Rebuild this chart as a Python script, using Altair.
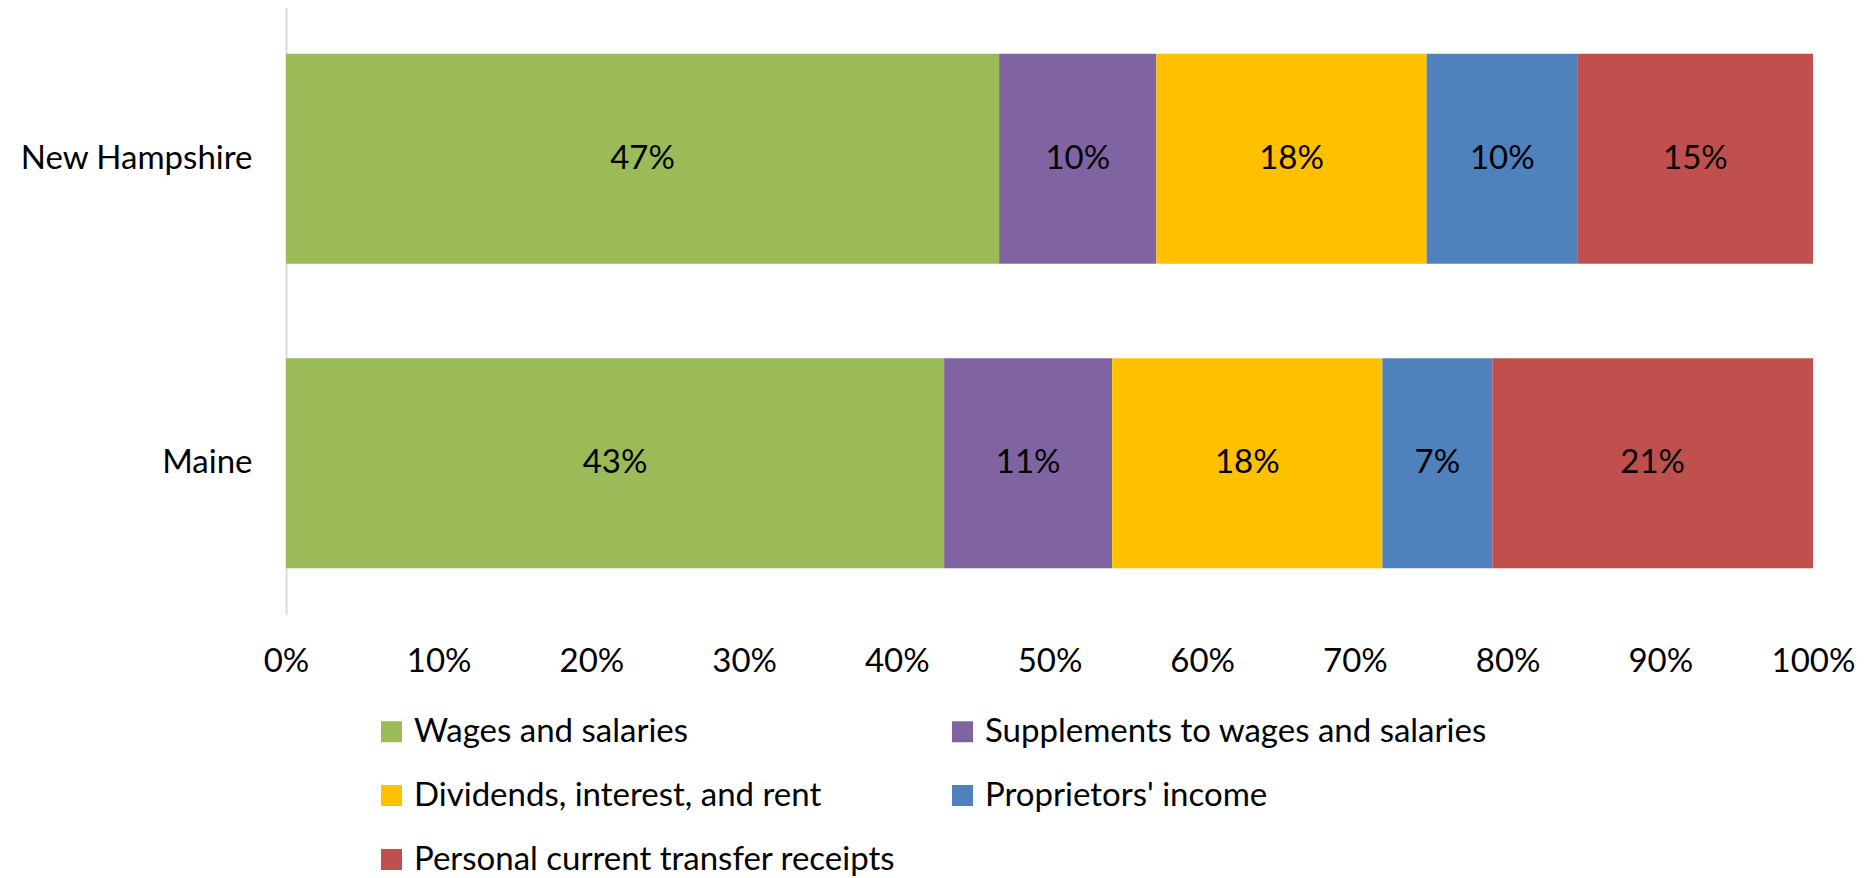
import altair as alt
import pandas as pd

states = ["New Hampshire", "Maine"]
categories = [
    "Wages and salaries",
    "Supplements to wages and salaries",
    "Dividends, interest, and rent",
    "Proprietors' income",
    "Personal current transfer receipts",
]
nh_values = [46.7, 10.3, 17.7, 9.9, 15.4]
me_values = [43.1, 11.0, 17.7, 7.2, 21.0]
colors = ["#9BBB59", "#8064A2", "#FFC000", "#4F81BD", "#C0504D"]
x_ticks = [0, 10, 20, 30, 40, 50, 60, 70, 80, 90, 100]

rows = []
for state, vals in zip(states, [nh_values, me_values]):
    for i, (cat, v) in enumerate(zip(categories, vals)):
        rows.append({"state": state, "category": cat, "value": v, "order": i})
df = pd.DataFrame(rows)

FONT = "Lato"
FS = 33

base = alt.Chart(df).transform_stack(
    stack="value", groupby=["state"], as_=["x0", "x1"],
    sort=[alt.SortField("order", order="ascending")]
).transform_calculate(
    mid="(datum.x0 + datum.x1) / 2",
    label="round(datum.value) + '%'"
)

y_enc = alt.Y(
    "state:N", sort=states, title=None,
    scale=alt.Scale(paddingInner=0.31, paddingOuter=0.15),
    axis=alt.Axis(domain=True, domainColor="#D9D9D9", domainWidth=2, ticks=False,
                  labelPadding=34, labelFont=FONT, labelFontSize=FS, labelColor="#000000",
                  grid=False, labelLimit=400)
)

bars = base.mark_bar().encode(
    x=alt.X("x0:Q", title=None,
            scale=alt.Scale(domain=[0, 100], nice=False),
            axis=alt.Axis(values=x_ticks, labelExpr="datum.value + '%'", domain=False,
                          ticks=False, grid=False, labelPadding=31, labelFont=FONT,
                          labelFontSize=FS, labelColor="#000000", labelFlush=False)),
    x2="x1:Q",
    y=y_enc,
    color=alt.Color(
        "category:N",
        scale=alt.Scale(domain=categories, range=colors),
        legend=alt.Legend(
            title=None, orient="none", legendX=89, legendY=707, columns=2,
            symbolType="square", symbolSize=441, symbolStrokeWidth=0,
            labelFont=FONT, labelFontSize=FS, labelColor="#000000",
            columnPadding=50, rowPadding=30, labelOffset=6, labelLimit=700,
            direction="horizontal"
        ),
    ),
    order=alt.Order("order:Q"),
)

texts = base.mark_text(font=FONT, fontSize=FS, color="#000000", baseline="middle").encode(
    x="mid:Q",
    y=alt.Y("state:N", sort=states),
    text="label:N",
)

chart = alt.layer(bars, texts).properties(
    width=1527, height=606,
    background="white",
    autosize=alt.AutoSizeParams(type="none"),
    padding={"left": 278, "top": 0, "right": 48, "bottom": 264},
).configure_view(stroke="transparent", strokeWidth=0)

chart.save("out.html", embed_options={"renderer": "svg", "actions": False})
